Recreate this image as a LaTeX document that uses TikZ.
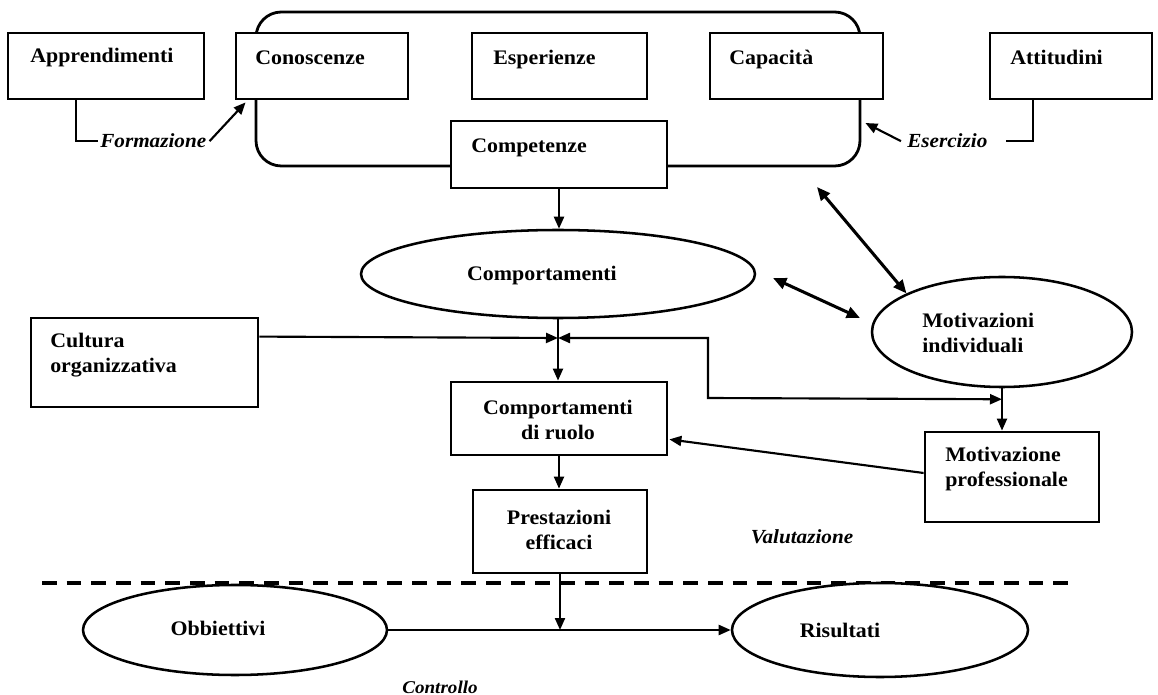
\documentclass[tikz,border=0pt]{standalone}
\usepackage{fontspec}
\setmainfont{Liberation Serif}[FakeStretch=1.06]
\usetikzlibrary{arrows.meta,calc,shapes.geometric}
\def\upx{0.75pt}
\begin{document}
\begin{tikzpicture}[x=0.75pt,y=-0.75pt,
  box/.style={draw, line width=2.1pt, fill=white, rectangle, inner sep=0pt},
  oval/.style={draw, line width=1.9pt, ellipse, inner sep=0pt, fill=white},
  lbl/.style={font=\bfseries\fontsize{15.5}{18.75}\selectfont, inner sep=0pt},
  ilbl/.style={font=\bfseries\itshape\fontsize{15}{18}\selectfont, inner sep=0pt},
  conn/.style={line width=1.6pt},
  arr/.style={conn, -{Triangle[length=9pt,width=7.5pt]}},
  darr/.style={line width=2.3pt, {Triangle[length=10pt,width=8.5pt]}-{Triangle[length=10pt,width=8.5pt]}},
  cutline/.style={line width=2.3pt, dash pattern=on 11pt off 7.5pt}
]
\useasboundingbox (0,0) rectangle (1158,695);

% container
\node[draw, line width=2.1pt, rectangle, rounded corners=19pt, inner sep=0pt,
  minimum width=604*\upx, minimum height=154*\upx] (cont) at (558,89) {};

% top boxes
\node[box, minimum width=196*\upx, minimum height=66*\upx] (app) at (106,66) {};
\node[box, minimum width=172*\upx, minimum height=66*\upx] (con) at (322,66) {};
\node[box, minimum width=175*\upx, minimum height=66*\upx] (esp) at (559.5,66) {};
\node[box, minimum width=173*\upx, minimum height=66*\upx] (cap) at (796.5,66) {};
\node[box, minimum width=162*\upx, minimum height=66*\upx] (att) at (1071,66) {};
\node[box, minimum width=216*\upx, minimum height=67*\upx] (comp) at (559,154.5) {};

\node[lbl, anchor=base west] (appT) at (30,63) {Apprendimenti};
\node[lbl, anchor=base west] (conT) at (255,65) {Conoscenze};
\node[lbl, anchor=base west] (espT) at (493,65) {Esperienze};
\node[lbl, anchor=base west] (capT) at (729,65) {Capacità};
\node[lbl, anchor=base west] (attT) at (1010,65) {Attitudini};
\node[lbl, anchor=base west] (compT) at (471,153) {Competenze};

\node[ilbl, anchor=base west] (formT) at (100,148) {Formazione};
\node[ilbl, anchor=base west] (esT) at (907,148) {Esercizio};

% middle shapes
\node[oval, minimum width=394*\upx, minimum height=88*\upx] (comps) at (558,274) {};
\node[lbl] (compsT) at (542,276) {Comportamenti};
\node[oval, minimum width=260*\upx, minimum height=110*\upx] (motiv) at (1002,332) {};
\node[lbl, anchor=west, align=left] (motivT) at (922,333) {Motivazioni\\individuali};
\node[box, minimum width=227*\upx, minimum height=89*\upx] (cult) at (144.5,362.5) {};
\node[lbl, anchor=west, align=left] (cultT) at (50,355) {Cultura\\organizzativa};
\node[box, minimum width=216*\upx, minimum height=73*\upx] (ruolo) at (559,418.5) {};
\node[lbl, align=center] (ruoloT) at (558,420) {Comportamenti\\di ruolo};
\node[box, minimum width=174*\upx, minimum height=83*\upx] (prest) at (560,531.5) {};
\node[lbl, align=center] (prestT) at (559,530) {Prestazioni\\efficaci};
\node[box, minimum width=174*\upx, minimum height=90*\upx] (mprof) at (1012,477) {};
\node[lbl, anchor=west, align=left] (mprofT) at (945,469) {Motivazione\\professionale};
\node[ilbl] (valT) at (802,537) {Valutazione};

% bottom
\coordinate (dl) at (42,583);
\coordinate (dr) at (1078,583);
\draw[cutline] (dl) -- (dr);
\node[oval, minimum width=304*\upx, minimum height=90*\upx] (obb) at (235,630) {};
\node[lbl] (obbT) at (218,628) {Obbiettivi};
\node[oval, minimum width=296*\upx, minimum height=94*\upx] (ris) at (880,630) {};
\node[lbl] (risT) at (840,630) {Risultati};
\node[ilbl, font=\bfseries\itshape\fontsize{13.5}{15}\selectfont] (ctrlT) at (440,687) {Controllo};

% connectors top
\draw[conn] ($(app.south west)+(69,0)$) |- ($(formT.west)+(-2,0)$);
\draw[arr] ($(formT.east)+(3,0)$) -- ($(con.south west)+(11,2)$);
\draw[conn] ($(att.south west)+(44,0)$) |- ($(esT.east)+(18,0)$);
\draw[arr] ($(esT.west)+(-6,0)$) -- ($(cont.east)+(4,34)$);
\draw[arr] (comp.south) -- (comp.south |- comps.north);

% double arrows
\coordinate (d1a) at (817,187);
\coordinate (d2a) at (773,278);
\coordinate (d2b) at (860,318);
\draw[darr] (d1a) -- (motiv.158);
\draw[darr] (d2a) -- (d2b);

% junction
\coordinate (J) at (558,338);
\coordinate (K) at ($(motiv.south)+(0,11)$);
\draw[arr] (comps.south) -- (comps.south |- ruolo.north);
\draw[arr] ($(cult.north east)+(0,20)$) -- (J);
\draw[conn, {Triangle[length=9pt,width=7.5pt]}-{Triangle[length=9pt,width=7.5pt]}] (J) -- (708,338) -- (708,398) -- (K);
\draw[arr] (motiv.south) -- (motiv.south |- mprof.north);
\draw[arr] ($(mprof.west)+(0,-4)$) -- ($(ruolo.south east)+(1,-17)$);
\draw[arr] (ruolo.south) -- (ruolo.south |- prest.north);
\draw[arr] (prest.south) -- (prest.south |- obb.east);
\draw[arr] (obb.east) -- (ris.west);
\end{tikzpicture}
\end{document}
